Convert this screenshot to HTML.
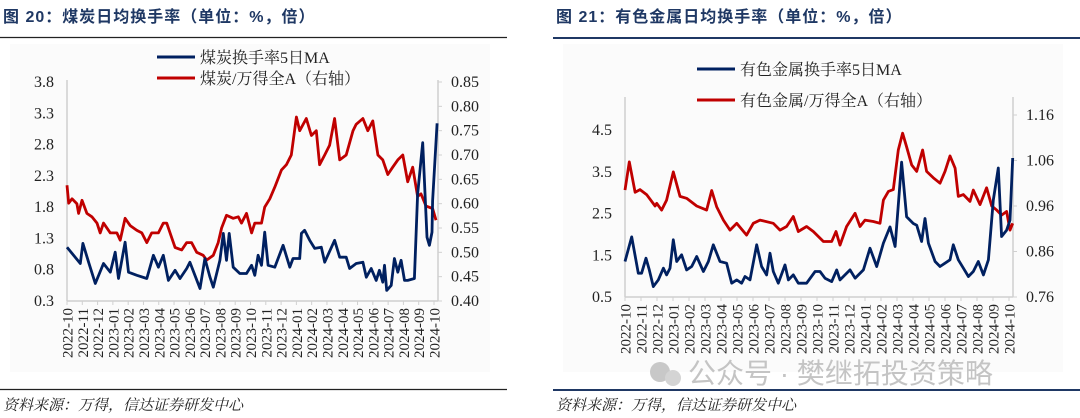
<!DOCTYPE html>
<html><head><meta charset="utf-8">
<style>
body{margin:0;width:1080px;height:418px;background:#fff;overflow:hidden;font-family:"Liberation Serif","Noto Serif CJK SC",serif;}
.title{position:absolute;top:3px;font:bold 16px "Liberation Sans","Noto Sans CJK SC",sans-serif;color:#1f3864;letter-spacing:1px;}
.src{position:absolute;top:394px;font:italic 15px "Liberation Serif","Noto Serif CJK SC",serif;color:#222;}
svg{position:absolute;left:0;top:0}
</style></head><body>
<div class="title" style="left:3px">图 20：煤炭日均换手率（单位：%，倍）</div>
<div class="title" style="left:556px">图 21：有色金属日均换手率（单位：%，倍）</div>
<div class="src" style="left:3px">资料来源：万得，信达证券研发中心</div>
<div class="src" style="left:556px">资料来源：万得，信达证券研发中心</div>
<svg id="s" width="1080" height="418" xmlns="http://www.w3.org/2000/svg"></svg>
<script>
const months=["2022-10","2022-11","2022-12","2023-01","2023-02","2023-03","2023-04","2023-05","2023-06","2023-07","2023-08","2023-09","2023-10","2023-11","2023-12","2024-01","2024-02","2024-03","2024-04","2024-05","2024-06","2024-07","2024-08","2024-09","2024-10"];
const coalLeftTicks=[0.3,0.8,1.3,1.8,2.3,2.8,3.3,3.8];
const coalRightTicks=[0.40,0.45,0.50,0.55,0.60,0.65,0.70,0.75,0.80,0.85];
const metalLeftTicks=[0.5,1.5,2.5,3.5,4.5];
const metalRightTicks=[0.76,0.86,0.96,1.06,1.16];
const coalTurnT=[0,.87,1.04,1.41,1.85,2.39,2.83,3.15,3.37,3.8,4.02,4.57,5.22,5.65,5.98,6.3,6.63,7.07,7.39,7.83,8.04,8.7,9.02,9.35,9.57,10,10.22,10.43,10.61,10.87,11.3,11.74,12.07,12.28,12.5,12.72,12.93,13.15,13.59,14.13,14.57,14.78,15.22,15.33,15.54,15.87,16.2,16.63,16.85,17.5,17.83,18.26,18.48,18.91,19.35,19.57,19.89,20.22,20.43,20.65,20.76,20.91,21.2,21.41,21.63,21.85,22.07,22.28,22.72,22.93,23.26,23.54,23.7,23.87,23.91,24.2];
const coalTurnV=[1.16,0.9,1.22,0.92,0.58,0.9,0.76,1.08,0.66,1.24,0.76,0.71,0.66,1.03,0.84,1.03,0.63,0.79,0.66,0.82,0.92,0.5,0.98,0.68,0.52,0.95,1.38,0.95,1.38,0.84,0.74,0.74,0.87,0.71,1.03,0.87,1.4,0.87,0.84,1.19,0.84,0.98,0.98,1.38,1.43,1.27,1.14,1.16,0.92,1.27,1.0,1.0,0.82,0.9,0.92,0.68,0.82,0.63,0.79,0.6,0.87,0.47,0.55,0.98,0.76,0.95,0.63,0.63,0.66,2.0,2.83,1.32,1.19,1.4,1.9,3.14];
const coalRelT=[0,.11,.33,.65,.76,.98,1.3,1.63,1.96,2.17,2.39,2.83,3.26,3.48,3.8,4.13,4.57,4.89,5.22,5.54,5.98,6.3,6.52,6.85,7.07,7.5,7.83,8.15,8.48,8.91,9.13,9.57,9.89,10.11,10.43,10.87,11.2,11.41,11.74,12.07,12.28,12.72,12.93,13.26,13.59,14.02,14.35,14.67,15,15.22,15.65,15.98,16.3,16.52,16.85,17.17,17.5,17.83,18.26,18.7,18.91,19.35,19.67,20,20.33,20.65,20.98,21.3,21.63,21.96,22.28,22.61,22.93,23.15,23.48,23.91,24.13];
const coalRelV=[0.638,0.601,0.61,0.60,0.58,0.607,0.58,0.573,0.56,0.54,0.56,0.54,0.54,0.525,0.57,0.555,0.545,0.54,0.52,0.54,0.54,0.56,0.56,0.53,0.51,0.505,0.52,0.52,0.5,0.494,0.484,0.494,0.52,0.55,0.576,0.57,0.573,0.56,0.58,0.54,0.56,0.56,0.593,0.61,0.634,0.669,0.68,0.70,0.778,0.75,0.775,0.74,0.75,0.68,0.70,0.72,0.775,0.69,0.70,0.75,0.763,0.775,0.75,0.77,0.70,0.69,0.66,0.675,0.69,0.70,0.645,0.675,0.615,0.62,0.595,0.59,0.566];
const metalTurnT=[0,.42,.83,1.04,1.31,1.52,1.77,2.08,2.4,2.6,2.81,3.02,3.23,3.54,3.85,4.17,4.48,4.9,5.21,5.52,5.94,6.35,6.67,6.98,7.29,7.5,7.81,8.23,8.54,8.85,9.06,9.27,9.58,10,10.21,10.52,10.83,11.35,11.88,12.19,12.5,12.92,13.23,13.44,14.06,14.38,14.9,15.31,15.73,16.15,16.56,16.88,17.29,17.6,18.02,18.23,18.54,18.75,18.96,19.38,19.69,20,20.31,20.52,20.83,21.15,21.46,21.77,22.08,22.4,22.71,23.02,23.33,23.54,23.85,24.06,24.23];
const metalTurnV=[1.35,1.94,1.07,1.07,1.43,1.15,0.75,0.91,1.19,1.03,1.19,1.87,1.35,1.51,1.15,1.23,1.47,1.11,1.35,1.75,1.35,1.31,0.83,0.91,0.83,0.99,0.91,1.75,1.23,1.03,1.55,1.11,0.83,1.27,0.91,1.03,0.83,0.83,1.11,1.11,0.95,0.87,1.15,0.91,1.15,0.95,1.15,1.67,1.23,1.79,2.18,1.71,3.73,2.42,2.26,2.22,1.83,2.38,1.79,1.35,1.23,1.31,1.39,1.75,1.39,1.19,0.99,1.11,1.35,1.03,1.39,2.82,3.59,1.95,2.1,2.34,3.83];
const metalRelT=[0,.27,.63,.94,1.35,1.88,1.98,2.29,2.6,3.02,3.44,3.85,4.48,5.1,5.42,5.73,6.15,6.56,6.98,7.6,8.02,8.44,9.27,9.69,10.1,10.52,10.83,11.35,11.77,12.4,12.92,13.19,13.44,13.85,14.38,14.69,15,15.52,15.94,16.15,16.46,16.77,17.08,17.35,17.6,17.92,18.23,18.6,18.85,19.27,19.69,20,20.31,20.63,20.83,21.15,21.56,21.77,22.19,22.6,22.92,23.23,23.54,23.85,24.06,24.23];
const metalRelV=[0.995,1.057,0.99,0.996,0.985,0.96,0.966,0.951,0.973,1.035,0.981,0.977,0.96,0.951,0.994,0.958,0.929,0.907,0.922,0.896,0.922,0.929,0.922,0.907,0.915,0.937,0.904,0.915,0.904,0.882,0.882,0.904,0.874,0.915,0.944,0.915,0.929,0.926,0.922,0.973,0.992,0.996,1.083,1.12,1.09,1.05,1.036,1.083,1.036,1.022,1.01,1.036,1.07,1.043,0.981,0.985,0.97,0.995,0.963,1.0,0.96,0.951,0.94,0.948,0.907,0.922];

const S=document.getElementById('s');const NS='http://www.w3.org/2000/svg';
function mk(t,a,txt){const e=document.createElementNS(NS,t);for(const k in a)e.setAttribute(k,a[k]);if(txt!==undefined)e.textContent=txt;S.appendChild(e);return e;}

let r;
r=mk('line',{x1:0,y1:37.5,x2:507,y2:37.5,stroke:'#222','stroke-width':1.2});


r=mk('line',{x1:0,y1:389.5,x2:507,y2:389.5,stroke:'#222','stroke-width':1.2});


r=mk('line',{x1:553,y1:38,x2:1080,y2:38,stroke:'#1f3864','stroke-width':2});


r=mk('line',{x1:553,y1:390,x2:1080,y2:390,stroke:'#1f3864','stroke-width':2});



function chart(c){
  const bg=mk('rect',{x:c.bgx,y:44,width:c.bgw,height:328,fill:'#fbfbfb'});
  
  
  const X=m=>c.x0+(c.x1-c.x0)*m/24;
  const YL=v=>c.yb+(c.yt-c.yb)*(v-c.lmin)/(c.lmax-c.lmin);
  const YR=v=>c.yb+(c.ytR-c.yb)*(v-c.rmin)/(c.rmax-c.rmin);
  let e=mk('line',{x1:c.x0,y1:c.ltop,x2:c.x0,y2:c.yb,stroke:'#d0d0d0','stroke-width':1.5});
  
  
  e=mk('line',{x1:c.xr,y1:c.rtop,x2:c.xr,y2:c.yb,stroke:'#d0d0d0','stroke-width':1.5});
  
  
  e=mk('line',{x1:c.x0,y1:c.yb,x2:c.xr,y2:c.yb,stroke:'#d0d0d0','stroke-width':1.5});
  
  
  c.lt.forEach(v=>{
    const t=mk('text',{x:c.x0-13,y:YL(v)+5,'text-anchor':'end','font-size':16,fill:'#222'},v.toFixed(1));
    
    
  });
  c.rt.forEach(v=>{
    const t=mk('text',{x:c.xr+13,y:YR(v)+5,'font-size':16,fill:'#222'},v.toFixed(2));
    
    
    mk('line',{x1:c.xr,y1:YR(v),x2:c.xr+4,y2:YR(v),stroke:'#d0d0d0'});
  });
  months.forEach((m,i)=>{
    const x=X(i);
    mk('line',{x1:x,y1:c.yb,x2:x,y2:c.yb+4,stroke:'#d0d0d0'});
    const t=mk('text',{x:0,y:0,'font-size':15,fill:'#222','text-anchor':'end',transform:`translate(${x+5.5},${c.yb+7}) rotate(-90)`},m);
    
    
  });
  const path=(T,V,Y)=>T.map((t,i)=>(i?'L':'M')+X(t).toFixed(1)+','+Y(V[i]).toFixed(1)).join(' ');
  e=mk('path',{d:path(c.rT,c.rV,YR),fill:'none',stroke:'#c00000','stroke-width':2.8,'stroke-linejoin':'round'});
  
  
  e=mk('path',{d:path(c.bT,c.bV,YL),fill:'none',stroke:'#002060','stroke-width':2.8,'stroke-linejoin':'round'});
  
  
  e=mk('line',{x1:c.lgx,y1:c.lg1,x2:c.lgx+38,y2:c.lg1,stroke:'#002060','stroke-width':3});
  
  
  e=mk('text',{x:c.lgx+43,y:c.lg1+6,'font-size':16,fill:'#222'},c.n1);
  
  
  e=mk('line',{x1:c.lgx,y1:c.lg2,x2:c.lgx+38,y2:c.lg2,stroke:'#c00000','stroke-width':3});
  
  
  e=mk('text',{x:c.lgx+43,y:c.lg2+6,'font-size':16,fill:'#222'},c.n2);
  
  
}
chart({id:'coal',bgx:10,bgw:480,x0:67,x1:434,xr:438,yt:82,ytR:82,yb:301,ltop:80,rtop:80,lmin:0.3,lmax:3.8,rmin:0.40,rmax:0.85,lt:coalLeftTicks,rt:coalRightTicks,bT:coalTurnT,bV:coalTurnV,rT:coalRelT,rV:coalRelV,lgx:157,lg1:57,lg2:78,n1:'煤炭换手率5日MA',n2:'煤炭/万得全A（右轴）'});
chart({id:'metal',bgx:563,bgw:500,x0:625,x1:1009,xr:1013,yt:130,ytR:115,yb:297,ltop:97,rtop:97,lmin:0.5,lmax:4.5,rmin:0.76,rmax:1.16,lt:metalLeftTicks,rt:metalRightTicks,bT:metalTurnT,bV:metalTurnV,rT:metalRelT,rV:metalRelV,lgx:697,lg1:69,lg2:100,n1:'有色金属换手率5日MA',n2:'有色金属/万得全A（右轴）'});
let w=mk('circle',{cx:660,cy:372,r:10,fill:'#c8c8c8'});


mk('circle',{cx:673,cy:378,r:8,fill:'#d4d4d4'});
w=mk('text',{x:688,y:383,'font-size':28,fill:'#c4c4c4','font-family':'"Liberation Sans","Noto Sans CJK SC",sans-serif'},'公众号 · 樊继拓投资策略');


</script>
</body></html>
